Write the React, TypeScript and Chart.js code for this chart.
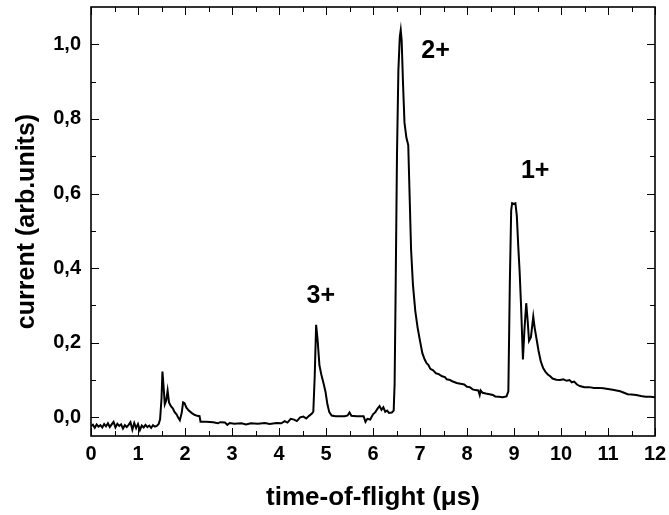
import React, { useEffect, useRef } from 'react';
import { Chart, registerables } from 'chart.js';

Chart.register(...registerables);

const FONT = '"Liberation Sans", Arial, Helvetica, sans-serif';

// time-of-flight (µs)
const times = [
  0.00, 0.04, 0.08, 0.12, 0.16, 0.20, 0.24, 0.28, 0.32, 0.36, 0.40, 0.44, 0.48, 0.52, 0.56, 0.60,
  0.64, 0.68, 0.72, 0.76, 0.80, 0.84, 0.88, 0.92, 0.96, 1.00, 1.04, 1.08, 1.12, 1.16, 1.20, 1.24,
  1.28, 1.32, 1.36, 1.40, 1.44, 1.47, 1.50, 1.52, 1.54, 1.57, 1.60, 1.63, 1.66, 1.70, 1.74, 1.78,
  1.82, 1.86, 1.89, 1.93, 1.96, 1.99, 2.03, 2.08, 2.14, 2.20, 2.26, 2.31, 2.33, 2.45, 2.60, 2.70,
  2.75, 2.85, 2.90, 2.95, 3.05, 3.20, 3.30, 3.40, 3.55, 3.70, 3.80, 3.95, 4.05, 4.12, 4.18, 4.25,
  4.32, 4.38, 4.45, 4.52, 4.58, 4.64, 4.70, 4.73, 4.76, 4.79, 4.82, 4.86, 4.90, 4.95, 4.99, 5.03,
  5.07, 5.12, 5.20, 5.30, 5.40, 5.46, 5.50, 5.54, 5.65, 5.80, 5.84, 5.88, 5.94, 6.00, 6.05, 6.10,
  6.14, 6.18, 6.22, 6.26, 6.30, 6.34, 6.40, 6.44, 6.46, 6.48, 6.51, 6.54, 6.57, 6.59, 6.61, 6.64,
  6.67, 6.71, 6.75, 6.78, 6.81, 6.85, 6.90, 6.95, 7.00, 7.05, 7.10, 7.14, 7.18, 7.22, 7.28, 7.34,
  7.40, 7.47, 7.53, 7.57, 7.64, 7.70, 7.78, 7.86, 7.94, 8.00, 8.06, 8.12, 8.18, 8.24, 8.27, 8.29,
  8.33, 8.40, 8.48, 8.55, 8.60, 8.68, 8.76, 8.84, 8.88, 8.91, 8.94, 8.96, 9.00, 9.03, 9.06, 9.09,
  9.12, 9.15, 9.19, 9.22, 9.26, 9.29, 9.32, 9.36, 9.41, 9.44, 9.48, 9.52, 9.57, 9.62, 9.67, 9.72,
  9.77, 9.82, 9.90, 9.98, 10.05, 10.12, 10.18, 10.23, 10.28, 10.34, 10.40, 10.50, 10.60, 10.70,
  10.80, 10.90, 11.00, 11.10, 11.18, 11.26, 11.34, 11.42, 11.50, 11.60, 11.70, 11.80, 11.90, 12.00,
];

// current (arb. units)
const currents = [
  -0.024, -0.020, -0.028, -0.019, -0.025, -0.021, -0.027, -0.018, -0.024, -0.016, -0.026, -0.019, -0.012, -0.027, -0.017, -0.023,
  -0.019, -0.030, -0.021, -0.026, -0.020, -0.013, -0.033, -0.015, -0.029, -0.018, -0.034, -0.022, -0.027, -0.020, -0.026, -0.022,
  -0.028, -0.021, -0.025, -0.023, -0.018, -0.005, 0.050, 0.123, 0.090, 0.035, 0.045, 0.072, 0.040, 0.030, 0.024, 0.014,
  0.008, -0.002, -0.008, 0.012, 0.040, 0.038, 0.026, 0.018, 0.012, 0.007, 0.004, 0.003, -0.012, -0.012, -0.013, -0.016,
  -0.013, -0.014, -0.020, -0.015, -0.017, -0.016, -0.019, -0.016, -0.017, -0.015, -0.018, -0.015, -0.016, -0.010, -0.014, -0.004,
  -0.006, -0.010, 0.000, 0.002, -0.003, 0.004, 0.010, 0.015, 0.110, 0.248, 0.210, 0.140, 0.115, 0.090, 0.068, 0.035,
  0.014, 0.005, 0.003, 0.003, 0.003, 0.005, 0.013, 0.004, 0.003, 0.003, -0.012, -0.004, -0.006, 0.008, 0.014, 0.024,
  0.030, 0.020, 0.027, 0.015, 0.018, 0.012, 0.013, 0.018, 0.090, 0.320, 0.700, 0.930, 1.020, 1.038, 1.010, 0.890,
  0.790, 0.750, 0.730, 0.590, 0.450, 0.355, 0.285, 0.240, 0.205, 0.172, 0.155, 0.145, 0.140, 0.130, 0.126, 0.118,
  0.116, 0.110, 0.108, 0.102, 0.100, 0.096, 0.092, 0.090, 0.088, 0.082, 0.081, 0.075, 0.073, 0.072, 0.060, 0.072,
  0.066, 0.064, 0.062, 0.060, 0.056, 0.055, 0.054, 0.056, 0.070, 0.350, 0.555, 0.574, 0.572, 0.574, 0.540, 0.460,
  0.390, 0.300, 0.155, 0.230, 0.306, 0.260, 0.205, 0.215, 0.270, 0.240, 0.210, 0.180, 0.150, 0.132, 0.122, 0.115,
  0.110, 0.104, 0.101, 0.100, 0.102, 0.098, 0.100, 0.094, 0.096, 0.088, 0.084, 0.081, 0.081, 0.079,
  0.079, 0.078, 0.076, 0.074, 0.072, 0.070, 0.066, 0.062, 0.061, 0.060, 0.057, 0.055, 0.055, 0.054,
];

const xTicks = [0, 1, 2, 3, 4, 5, 6, 7, 8, 9, 10, 11, 12];
const xMinorTicks = [0.5, 1.5, 2.5, 3.5, 4.5, 5.5, 6.5, 7.5, 8.5, 9.5, 10.5, 11.5];
const yTicks = [0, 0.2, 0.4, 0.6, 0.8, 1.0];
const yMinorTicks = [0.1, 0.3, 0.5, 0.7, 0.9];

const peakLabels = ['3+', '2+', '1+'];
const peakX = [4.89, 7.33, 9.45];
const peakY = [0.326, 0.982, 0.661];

const framePlugin = {
  id: 'frameTicks',
  afterDatasetsDraw(chart: any) {
    const { ctx, chartArea: a, scales } = chart;
    const xs = scales.x;
    const ys = scales.y;
    ctx.save();
    ctx.strokeStyle = '#000';
    ctx.lineWidth = 1;
    const major = 8;
    const minor = 5;
    const drawX = (v: number, len: number) => {
      const px = Math.round(xs.getPixelForValue(v)) + 0.5;
      ctx.beginPath();
      ctx.moveTo(px, a.bottom);
      ctx.lineTo(px, a.bottom - len);
      ctx.moveTo(px, a.top);
      ctx.lineTo(px, a.top + len);
      ctx.stroke();
    };
    const drawY = (v: number, len: number) => {
      const py = Math.round(ys.getPixelForValue(v)) + 0.5;
      ctx.beginPath();
      ctx.moveTo(a.left, py);
      ctx.lineTo(a.left + len, py);
      ctx.moveTo(a.right, py);
      ctx.lineTo(a.right - len, py);
      ctx.stroke();
    };
    xTicks.forEach((v) => drawX(v, major));
    xMinorTicks.forEach((v) => drawX(v, minor));
    yTicks.forEach((v) => drawY(v, major));
    yMinorTicks.forEach((v) => drawY(v, minor));

    ctx.lineWidth = 1.6;
    ctx.strokeRect(a.left, a.top, a.right - a.left, a.bottom - a.top);

    ctx.fillStyle = '#000';
    ctx.font = `bold 25px ${FONT}`;
    ctx.textAlign = 'center';
    ctx.textBaseline = 'middle';
    peakLabels.forEach((t, i) => {
      ctx.fillText(t, xs.getPixelForValue(peakX[i]), ys.getPixelForValue(peakY[i]));
    });
    ctx.restore();
  },
};

export default function App() {
  const ref = useRef<HTMLCanvasElement | null>(null);

  useEffect(() => {
    document.body.style.margin = '0';
    if (!ref.current) return;
    const chart = new Chart(ref.current, {
      type: 'line',
      data: {
        datasets: [
          {
            data: times.map((t, i) => ({ x: t, y: currents[i] })),
            borderColor: '#000',
            borderWidth: 2,
            pointRadius: 0,
            tension: 0,
            fill: false,
          },
        ],
      },
      options: {
        animation: false,
        responsive: false,
        maintainAspectRatio: false,
        layout: { padding: { top: 7, right: 14, left: 0, bottom: 0 } },
        plugins: { legend: { display: false }, tooltip: { enabled: false } },
        scales: {
          x: {
            type: 'linear',
            min: 0,
            max: 12,
            grid: { display: false, drawTicks: false },
            border: { display: false },
            afterBuildTicks: (s: any) => {
              s.ticks = xTicks.map((v) => ({ value: v }));
            },
            afterFit: (s: any) => {
              s.height = 79;
              s.paddingLeft = 0;
              s.paddingRight = 0;
              s.paddingTop = 0;
              s.paddingBottom = 0;
            },
            ticks: {
              color: '#000',
              font: { family: FONT, size: 20, weight: 'bold' },
              padding: 6,
              maxRotation: 0,
              autoSkip: false,
              callback: (v: any) => String(v),
            },
            title: {
              display: true,
              text: 'time-of-flight (μs)',
              color: '#000',
              font: { family: FONT, size: 26, weight: 'bold' },
              padding: { top: 0, bottom: 2 },
            },
          },
          y: {
            type: 'linear',
            min: -0.05,
            max: 1.1,
            grid: { display: false, drawTicks: false },
            border: { display: false },
            afterBuildTicks: (s: any) => {
              s.ticks = yTicks.map((v) => ({ value: v }));
            },
            afterFit: (s: any) => {
              s.width = 91;
              s.paddingLeft = 0;
              s.paddingRight = 0;
              s.paddingTop = 0;
              s.paddingBottom = 0;
            },
            ticks: {
              color: '#000',
              font: { family: FONT, size: 20, weight: 'bold' },
              padding: 10,
              autoSkip: false,
              callback: (v: any) => Number(v).toFixed(1).replace('.', ','),
            },
            title: {
              display: true,
              text: 'current (arb.units)',
              color: '#000',
              font: { family: FONT, size: 25, weight: 'bold' },
              padding: { top: 12, bottom: 0 },
            },
          },
        },
      },
      plugins: [framePlugin],
    } as any);
    return () => chart.destroy();
  }, []);

  return (
    <div style={{ width: 669, height: 515, background: '#fff' }}>
      <canvas ref={ref} width={669} height={515} style={{ display: 'block' }} />
    </div>
  );
}
